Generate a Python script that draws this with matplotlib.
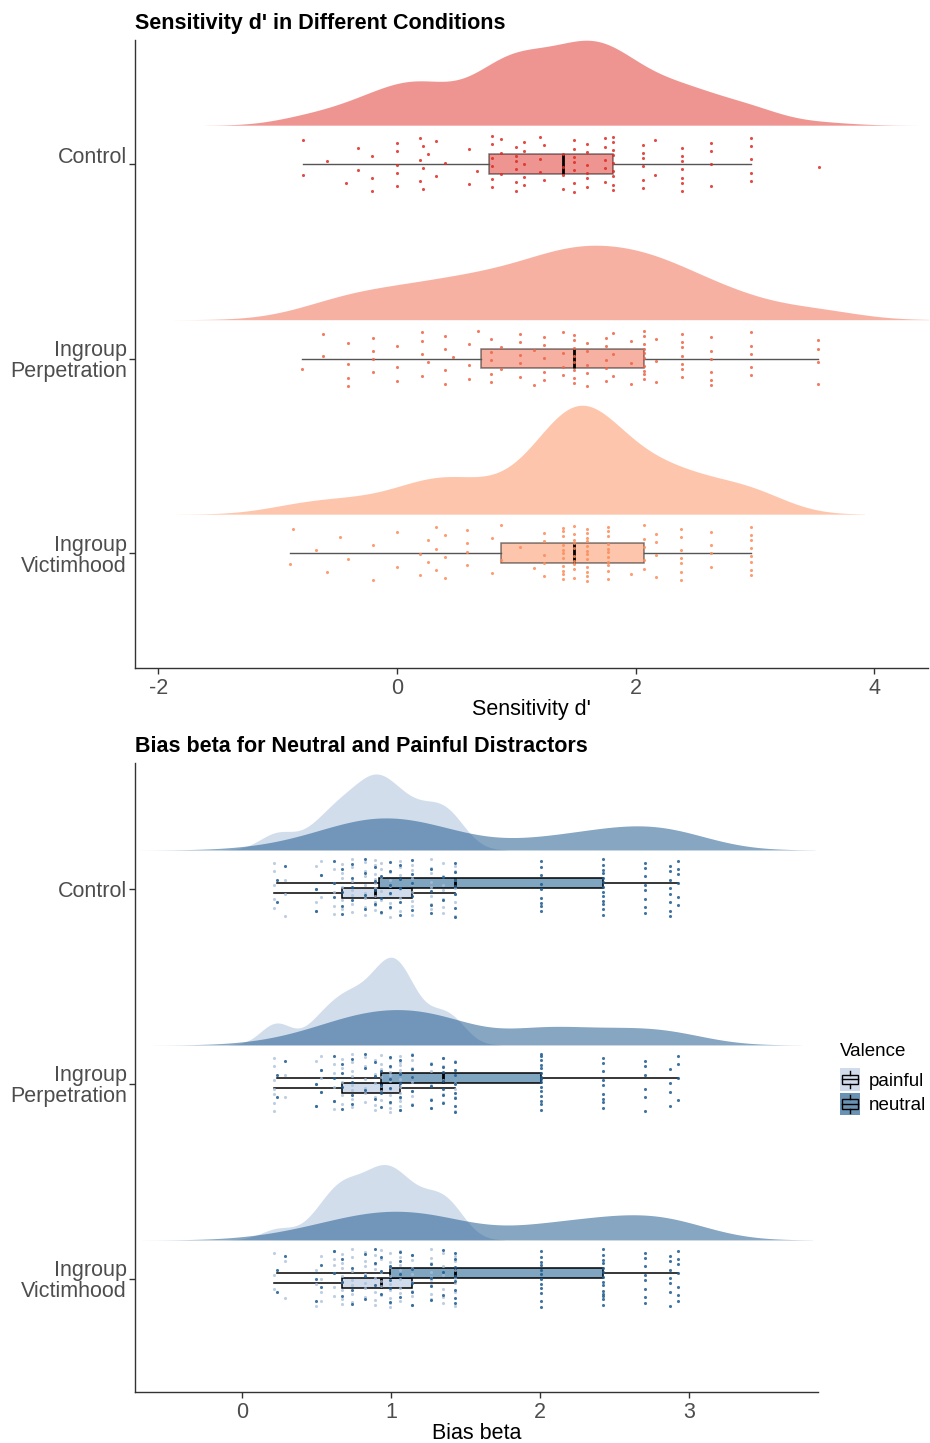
import numpy as np
import matplotlib.pyplot as plt
from matplotlib.patches import Rectangle
from matplotlib.lines import Line2D
from matplotlib.legend_handler import HandlerBase
from matplotlib.transforms import ScaledTranslation

plt.rcParams['font.family'] = ['Liberation Sans', 'DejaVu Sans']
plt.rcParams['axes.unicode_minus'] = False

# y positions: 1 = Victimhood, 2 = Perpetration, 3 = Control
cond_labels = ['Ingroup\nVictimhood', 'Ingroup\nPerpetration', 'Control']

# --- sensitivity d' (value columns and number of participants on each) ---
dp_ctrl_vals = [-0.79, -0.59, -0.43, -0.33, -0.21, 0.00, 0.19, 0.22, 0.26, 0.33, 0.40, 0.60,
                0.67, 0.80, 0.87, 1.00, 1.06, 1.20, 1.23, 1.39, 1.48, 1.59, 1.74, 1.81, 2.06,
                2.16, 2.39, 2.63, 2.97, 3.54]
dp_ctrl_n = [2, 1, 1, 2, 3, 5, 3, 3, 1, 2, 1, 2, 1, 6, 3, 6, 5, 3, 2, 4, 7, 6, 5, 9, 6, 2, 7, 4, 5, 1]

dp_perp_vals = [-0.795, -0.62, -0.41, -0.20, 0.00, 0.21, 0.26, 0.40, 0.47, 0.60, 0.68, 0.79,
                0.87, 1.03, 1.15, 1.23, 1.39, 1.485, 1.59, 1.75, 1.81, 1.96, 2.07, 2.17, 2.39,
                2.63, 2.97, 3.53]
dp_perp_n = [1, 2, 4, 4, 3, 4, 1, 4, 1, 3, 1, 5, 2, 5, 2, 5, 4, 8, 5, 5, 3, 3, 10, 3, 7, 6, 5, 4]

dp_vict_vals = [-0.90, -0.87, -0.68, -0.59, -0.48, -0.41, -0.20, 0.00, 0.19, 0.26, 0.33, 0.40,
                0.59, 0.80, 0.87, 1.03, 1.15, 1.23, 1.39, 1.485, 1.59, 1.77, 1.96, 2.07, 2.17,
                2.38, 2.63, 2.97]
dp_vict_n = [1, 1, 1, 1, 1, 1, 2, 2, 2, 2, 3, 3, 4, 2, 2, 1, 1, 5, 11, 10, 12, 11, 1, 5, 4, 7, 4, 8]

# --- bias beta: shared value columns, counts per condition and valence ---
beta_vals = [0.217, 0.232, 0.289, 0.494, 0.528, 0.617, 0.674, 0.738, 0.828, 0.892, 0.931,
             0.995, 1.059, 1.139, 1.267, 1.349, 1.431, 2.009, 2.423, 2.708, 2.872, 2.926]
beta_pain_ctrl_n = [5, 0, 3, 4, 3, 5, 6, 7, 8, 10, 6, 7, 6, 8, 8, 7, 7, 0, 0, 0, 0, 0]
beta_pain_perp_n = [7, 0, 2, 3, 4, 5, 5, 8, 6, 6, 7, 10, 13, 8, 5, 5, 6, 0, 0, 0, 0, 0]
beta_pain_vict_n = [3, 0, 2, 3, 4, 6, 8, 7, 7, 7, 6, 9, 8, 8, 9, 6, 7, 0, 0, 0, 0, 0]
beta_neut_ctrl_n = [0, 2, 1, 2, 1, 3, 4, 4, 4, 4, 3, 5, 5, 5, 4, 2, 7, 9, 13, 8, 8, 6]
beta_neut_perp_n = [0, 2, 1, 2, 2, 3, 4, 4, 3, 3, 4, 5, 5, 5, 4, 7, 8, 15, 9, 6, 4, 4]
beta_neut_vict_n = [0, 2, 1, 2, 2, 2, 3, 3, 3, 3, 3, 4, 4, 5, 4, 3, 8, 12, 14, 8, 7, 7]

dp_colors = ['#FC8D59', '#EF6548', '#DE2D26']   # victimhood, perpetration, control
pain_col, neut_col = '#A6BDDB', '#235D90'
pain_box, neut_box = '#D0DCEC', '#7FA5C1'


def expand(vals, counts):
    return np.repeat(np.asarray(vals, float), counts)


def nrd0(x):
    sd = x.std(ddof=1)
    q75, q25 = np.percentile(x, [75, 25])
    lo = min(sd, (q75 - q25) / 1.34)
    if lo <= 0:
        lo = sd
    return 0.9 * lo * len(x) ** -0.2


def kde(x):
    bw = nrd0(x)
    grid = np.linspace(x.min() - 3 * bw, x.max() + 3 * bw, 512)
    z = (grid[:, None] - x[None, :]) / bw
    dens = np.exp(-0.5 * z ** 2).sum(1) / (len(x) * bw * np.sqrt(2 * np.pi))
    return grid, dens


def jitter(n, spread):
    # evenly scattered vertical offsets
    return ((np.arange(n) * 0.6180339887 + 0.31) % 1.0 - 0.5) * 2 * spread


fig = plt.figure(figsize=(9.3, 14.43), dpi=100)
ax1 = fig.add_axes([135 / 930, 775 / 1443, 793 / 930, 628 / 1443])
ax2 = fig.add_axes([135 / 930, 51 / 1443, 683 / 930, 629 / 1443])

# ---------------- top: sensitivity d' ----------------
dp_groups = [expand(dp_vict_vals, dp_vict_n),
             expand(dp_perp_vals, dp_perp_n),
             expand(dp_ctrl_vals, dp_ctrl_n)]
dens_list = [kde(g) for g in dp_groups]
dmax = max(d.max() for _, d in dens_list)
for i, (g, (grid, d), c) in enumerate(zip(dp_groups, dens_list, dp_colors)):
    pos = i + 1
    ax1.fill_between(grid, pos + 0.2, pos + 0.2 + d / dmax * 0.56, color=c, alpha=0.5,
                     lw=0, zorder=1)
    ax1.boxplot(g, positions=[pos], widths=0.1, orientation='horizontal',
                patch_artist=True, showfliers=False, showcaps=False, manage_ticks=False,
                boxprops=dict(facecolor=c, alpha=0.5, edgecolor='black', linewidth=1.1),
                medianprops=dict(color='black', linewidth=2),
                whiskerprops=dict(color='#555555', linewidth=1))
    ax1.scatter(g, pos + jitter(len(g), 0.145), s=5, color=c, alpha=0.85, lw=0, zorder=4)

ax1.set_xlim(-2.196, 4.45)
ax1.set_ylim(0.409, 3.638)
ax1.set_xticks([-2, 0, 2, 4])
ax1.set_xlabel("Sensitivity d'", fontsize=15.5, labelpad=0)
ax1.set_title("Sensitivity d' in Different Conditions", loc='left', fontsize=15.5,
              fontweight='bold', pad=8)

# ---------------- bottom: bias beta ----------------
pain_groups = [expand(beta_vals, beta_pain_vict_n), expand(beta_vals, beta_pain_perp_n),
               expand(beta_vals, beta_pain_ctrl_n)]
neut_groups = [expand(beta_vals, beta_neut_vict_n), expand(beta_vals, beta_neut_perp_n),
               expand(beta_vals, beta_neut_ctrl_n)]
pain_dens = [kde(g) for g in pain_groups]
neut_dens = [kde(g) for g in neut_groups]
bmax = max(d.max() for _, d in pain_dens + neut_dens)
for i in range(3):
    pos = i + 1
    gp, dp = pain_dens[i]
    gn, dn = neut_dens[i]
    ax2.fill_between(gp, pos + 0.2, pos + 0.2 + dp / bmax * 0.45, color=pain_col, alpha=0.5,
                     lw=0, zorder=1)
    ax2.fill_between(gn, pos + 0.2, pos + 0.2 + dn / bmax * 0.45, color=neut_col, alpha=0.55,
                     lw=0, zorder=1.1)
    for g, off, fc in [(pain_groups[i], -0.02, pain_box), (neut_groups[i], 0.03, neut_box)]:
        ax2.boxplot(g, positions=[pos + off], widths=0.05, orientation='horizontal',
                    patch_artist=True, showfliers=False, showcaps=False, manage_ticks=False,
                    boxprops=dict(facecolor=fc, edgecolor='black', linewidth=1.1),
                    medianprops=dict(color='black', linewidth=2),
                    whiskerprops=dict(color='black', linewidth=1.1))
    ax2.scatter(pain_groups[i], pos + 0.005 + jitter(len(pain_groups[i]), 0.15), s=5,
                color='#A9BEDA', alpha=0.75, lw=0, zorder=4)
    ax2.scatter(neut_groups[i], pos + 0.005 + jitter(len(neut_groups[i]) + 7, 0.15)[7:], s=5,
                color='#1F5C8F', alpha=0.85, lw=0, zorder=4)

ax2.set_xlim(-0.718, 3.866)
ax2.set_ylim(0.42, 3.646)
ax2.set_xticks([0, 1, 2, 3])
ax2.set_xlabel('Bias beta', fontsize=15.5, labelpad=0)
ax2.set_title('Bias beta for Neutral and Painful Distractors', loc='left', fontsize=15.5,
              fontweight='bold', pad=8)

for ax in (ax1, ax2):
    ax.set_yticks([1, 2, 3])
    ax.set_yticklabels(cond_labels)
    for s in ('top', 'right'):
        ax.spines[s].set_visible(False)
    for s in ('left', 'bottom'):
        ax.spines[s].set_color('#333333')
        ax.spines[s].set_linewidth(1.0)
    ax.tick_params(axis='both', labelsize=15.5, labelcolor='#4D4D4D', color='#333333',
                   length=4, width=1)
    ax.tick_params(axis='y', pad=2)
    ax.tick_params(axis='x', pad=3)
    for t in ax.get_yticklabels():
        t.set_linespacing(1.0)

# single-line label in the top panel sits a little above its tick
lab = ax1.get_yticklabels()[2]
lab.set_transform(lab.get_transform() + ScaledTranslation(0, 9 / 100, fig.dpi_scale_trans))


class BoxKey(HandlerBase):
    def create_artists(self, legend, orig_handle, xdescent, ydescent, width, height,
                       fontsize, trans):
        fc = orig_handle.get_facecolor()
        x0, y0 = -xdescent, -ydescent
        bg = Rectangle((x0, y0), width, height, facecolor=fc, edgecolor='none',
                       transform=trans)
        bx = Rectangle((x0 + 0.1 * width, y0 + 0.28 * height), 0.8 * width, 0.44 * height,
                       facecolor='none', edgecolor='black', lw=1, transform=trans)
        xm = x0 + width / 2
        med = Line2D([x0 + 0.1 * width, x0 + 0.9 * width], [y0 + height / 2] * 2,
                     color='black', lw=1, transform=trans)
        w1 = Line2D([xm, xm], [y0 + 0.1 * height, y0 + 0.28 * height], color='black',
                    lw=1, transform=trans)
        w2 = Line2D([xm, xm], [y0 + 0.72 * height, y0 + 0.9 * height], color='black',
                    lw=1, transform=trans)
        return [bg, bx, med, w1, w2]


handles = [Rectangle((0, 0), 1, 1, facecolor=pain_box),
           Rectangle((0, 0), 1, 1, facecolor='#6A93B3')]
leg = fig.legend(handles, ['painful', 'neutral'], title='Valence', loc='upper left',
                 bbox_to_anchor=(840 / 930, 1 - 1043 / 1443), frameon=False, fontsize=13.5,
                 title_fontsize=13.5, handler_map={Rectangle: BoxKey()}, handlelength=1.05,
                 handleheight=1.45, handletextpad=0.5, labelspacing=0.12, borderpad=0,
                 borderaxespad=0)
leg._legend_box.align = 'left'
leg._legend_box.sep = 6

fig.savefig('out.png', dpi=100)
